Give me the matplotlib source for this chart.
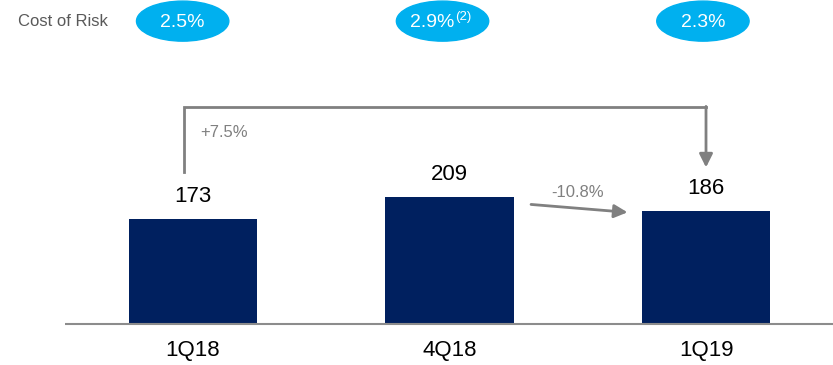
import matplotlib.pyplot as plt
from matplotlib.patches import Ellipse

plt.rcParams['font.family'] = ['Liberation Sans', 'DejaVu Sans']

# quarterly figures
quarters = ['1Q18', '4Q18', '1Q19']
values = [173, 209, 186]
cost_of_risk = ['2.5%', '2.9%', '2.3%']
cor_notes = ['', '(2)', '']
change_yoy = '+7.5%'
change_qoq = '-10.8%'

NAVY = '#00205f'
CYAN = '#00b0ef'
GREY = '#808080'

fig = plt.figure(figsize=(8.33, 3.65), dpi=100)
ax = fig.add_axes([0, 0, 1, 1])
ax.set_xlim(-0.752, 2.495)
ax.set_ylim(-67.5, 533.8)
ax.axis('off')

x = list(range(len(quarters)))
bars = ax.bar(x, values, width=0.5, color=NAVY, zorder=2)

# baseline
ax.plot([-0.5, 2.495], [0, 0], color='#8c8c8c', lw=1.5, zorder=3, solid_capstyle='butt')

for xi, v, q in zip(x, values, quarters):
    ax.annotate(str(v), (xi, v), xytext=(0, 9), textcoords='offset points',
                ha='center', va='bottom', fontsize=16, color='black')
    ax.text(xi, -43, q, ha='center', va='center', fontsize=16, color='black')

# cost of risk row
ax.text(-0.68, 499, 'Cost of Risk', ha='left', va='center', fontsize=12, color='#595959')
ell_x = [-0.04, -0.027, -0.012]
for xi, ex, lab, note in zip(x, ell_x, cost_of_risk, cor_notes):
    cx = xi + ex
    ax.add_patch(Ellipse((cx, 499), width=0.36, height=66, color=CYAN, zorder=2))
    if note:
        ax.text(xi + 0.021, 497, lab, ha='right', va='center', fontsize=14, color='white', zorder=3)
        ax.text(xi + 0.024, 505, note, ha='left', va='center', fontsize=9.5, color='white', zorder=3)
    else:
        ax.text(cx, 497, lab, ha='center', va='center', fontsize=14, color='white', zorder=3)

arrow_style = dict(arrowstyle='-|>,head_length=0.8,head_width=0.4', color=GREY, lw=2,
                   shrinkA=0, shrinkB=0)

# year-on-year bracket arrow
ax.plot([-0.035, -0.035, 2.0], [250, 357.5, 357.5], color=GREY, lw=2, solid_joinstyle='miter')
ax.annotate('', xy=(2.0, 258), xytext=(2.0, 358.5), arrowprops=arrow_style)
ax.text(0.03, 316, change_yoy, ha='left', va='center', fontsize=12, color=GREY)

# quarter-on-quarter arrow
ax.annotate('', xy=(1.694, 184), xytext=(1.318, 197), arrowprops=arrow_style)
ax.text(1.5, 216, change_qoq, ha='center', va='center', fontsize=12, color=GREY)

fig.savefig('out.png', dpi=100)
